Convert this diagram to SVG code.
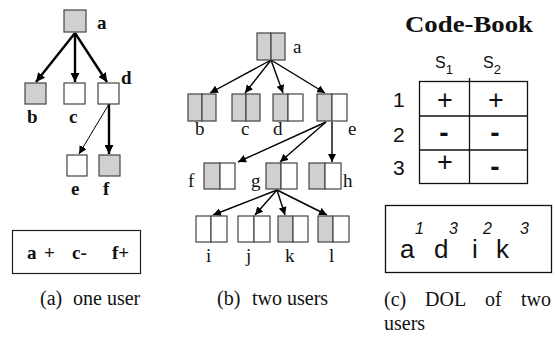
<svg xmlns="http://www.w3.org/2000/svg" width="555" height="337" viewBox="0 0 555 337">
<defs>
<marker id="ah" viewBox="0 0 10 10" refX="10" refY="5" markerWidth="9" markerHeight="9" markerUnits="userSpaceOnUse" orient="auto"><path d="M0,0 L10,5 L0,10 z" fill="#000"/></marker>
<marker id="ahs" viewBox="0 0 10 10" refX="10" refY="5" markerWidth="8" markerHeight="8" markerUnits="userSpaceOnUse" orient="auto"><path d="M0,0 L10,5 L0,10 z" fill="#000"/></marker>
</defs>
<style>
.bx{stroke:#444;stroke-width:1.2;fill:#fff}
.g{fill:#d0d0d0}
.w{fill:#fff}
.lb{font-family:'Liberation Serif','Times New Roman',serif;font-size:19px;font-weight:bold;fill:#111}
.lr{font-family:'Liberation Serif','Times New Roman',serif;font-size:19px;fill:#111}
.cap{font-family:'Liberation Serif','Times New Roman',serif;font-size:20px;fill:#111}
.sans{font-family:'Liberation Sans',Arial,sans-serif;fill:#111}
.sup{font-family:'Liberation Sans',Arial,sans-serif;font-size:16px;font-style:italic;fill:#111}
.thick{stroke:#000;stroke-width:2.4;fill:none}
.thin{stroke:#000;stroke-width:1;fill:none}
.tl{stroke:#000;stroke-width:1.4;fill:none}
.tb{stroke:#111;stroke-width:1.3;fill:none}
</style>

<!-- Panel (a) -->
<g id="connectors-a">
<line class="thick" x1="75" y1="33" x2="36" y2="82" marker-end="url(#ah)"/>
<line class="thick" x1="75" y1="33" x2="75" y2="82" marker-end="url(#ah)"/>
<line class="thick" x1="75" y1="33" x2="107" y2="82" marker-end="url(#ah)"/>
<line class="thin" x1="109" y1="104" x2="79" y2="154" marker-end="url(#ahs)"/>
<line class="thick" x1="109" y1="104" x2="109" y2="154" marker-end="url(#ah)"/>
</g>
<g id="a-a"><rect class="bx g" x="64" y="10" width="22" height="22"/><text class="lb" x="97" y="29">a</text></g>
<g id="a-b"><rect class="bx g" x="25" y="83" width="21" height="21"/><text class="lb" x="27" y="123">b</text></g>
<g id="a-c"><rect class="bx" x="64" y="83" width="21" height="21"/><text class="lb" x="69" y="123">c</text></g>
<g id="a-d"><rect class="bx" x="98" y="83" width="21" height="21"/><text class="lb" x="121" y="84">d</text></g>
<g id="a-e"><rect class="bx" x="67" y="155" width="20" height="21"/><text class="lb" x="71" y="195">e</text></g>
<g id="a-f"><rect class="bx g" x="99" y="155" width="21" height="21"/><text class="lb" x="103" y="195">f</text></g>
<g id="a-code">
<rect x="12.5" y="230.5" width="128" height="43" fill="#fff" stroke="#222" stroke-width="1.2"/>
<text class="lb" x="27" y="259">a</text>
<text class="lb" x="44" y="259">+</text>
<text class="lb" x="72" y="259">c-</text>
<text class="lb" x="112" y="259">f+</text>
</g>
<text class="cap" x="40" y="305">(a)</text>
<text class="cap" x="73" y="305">one user</text>

<!-- Panel (b) -->
<g id="connectors-b">
<line class="tl" x1="271" y1="60" x2="210" y2="93" marker-end="url(#ahs)"/>
<line class="tl" x1="271" y1="60" x2="245" y2="93" marker-end="url(#ahs)"/>
<line class="tl" x1="271" y1="60" x2="283" y2="93" marker-end="url(#ahs)"/>
<line class="tl" x1="271" y1="60" x2="325" y2="93" marker-end="url(#ahs)"/>
<line class="tl" x1="326" y1="122" x2="238" y2="162" marker-end="url(#ahs)"/>
<line class="tl" x1="326" y1="122" x2="280" y2="162" marker-end="url(#ahs)"/>
<line class="tl" x1="332" y1="122" x2="332" y2="162" marker-end="url(#ahs)"/>
<line class="tl" x1="277" y1="190" x2="213" y2="215" marker-end="url(#ahs)"/>
<line class="tl" x1="277" y1="190" x2="255" y2="215" marker-end="url(#ahs)"/>
<line class="tl" x1="277" y1="190" x2="285" y2="215" marker-end="url(#ahs)"/>
<line class="tl" x1="277" y1="190" x2="327" y2="215" marker-end="url(#ahs)"/>
</g>
<g id="b-a"><rect class="bx g" x="257" y="33" width="14" height="27"/><rect class="bx g" x="271" y="33" width="14" height="27"/><text class="lr" x="293" y="53">a</text></g>
<g id="b-b"><rect class="bx g" x="188" y="94" width="14" height="27"/><rect class="bx g" x="202" y="94" width="14" height="27"/><text class="lr" x="195" y="135">b</text></g>
<g id="b-c"><rect class="bx g" x="232" y="94" width="14" height="27"/><rect class="bx g" x="246" y="94" width="14" height="27"/><text class="lr" x="241" y="135">c</text></g>
<g id="b-d"><rect class="bx g" x="273" y="94" width="15" height="27"/><rect class="bx w" x="288" y="94" width="15" height="27"/><text class="lr" x="273" y="135">d</text></g>
<g id="b-e"><rect class="bx g" x="317" y="94" width="15" height="27"/><rect class="bx w" x="332" y="94" width="15" height="27"/><text class="lr" x="348" y="135">e</text></g>
<g id="b-f"><rect class="bx g" x="204" y="163" width="16" height="26"/><rect class="bx w" x="220" y="163" width="15" height="26"/><text class="lr" x="188" y="187">f</text></g>
<g id="b-g"><rect class="bx g" x="266" y="163" width="15" height="26"/><rect class="bx w" x="281" y="163" width="16" height="26"/><text class="lr" x="251" y="187">g</text></g>
<g id="b-h"><rect class="bx g" x="309" y="163" width="16" height="26"/><rect class="bx w" x="325" y="163" width="16" height="26"/><text class="lr" x="343" y="187">h</text></g>
<g id="b-i"><rect class="bx w" x="196" y="216" width="15" height="26"/><rect class="bx w" x="211" y="216" width="16" height="26"/><text class="lr" x="206" y="262">i</text></g>
<g id="b-j"><rect class="bx w" x="238" y="216" width="16" height="26"/><rect class="bx w" x="254" y="216" width="16" height="26"/><text class="lr" x="246" y="262">j</text></g>
<g id="b-k"><rect class="bx g" x="278" y="216" width="15" height="26"/><rect class="bx w" x="293" y="216" width="15" height="26"/><text class="lr" x="285" y="262">k</text></g>
<g id="b-l"><rect class="bx g" x="318" y="216" width="15" height="26"/><rect class="bx w" x="333" y="216" width="16" height="26"/><text class="lr" x="329" y="262">l</text></g>
<text class="cap" x="217" y="305">(b)</text>
<text class="cap" x="252" y="305">two users</text>

<!-- Panel (c) -->
<g id="codebook">
<text x="405" y="32" textLength="128" lengthAdjust="spacingAndGlyphs" style="font-family:'Liberation Serif','Times New Roman',serif;font-size:24px;font-weight:bold;fill:#111">Code-Book</text>
<text class="sans" x="435" y="68" style="font-size:16px">S<tspan style="font-size:13px" dy="6">1</tspan></text>
<text class="sans" x="483" y="68" style="font-size:16px">S<tspan style="font-size:13px" dy="6">2</tspan></text>
<rect class="tb" x="419.5" y="81.5" width="108" height="102"/>
<line class="tb" x1="469.5" y1="78" x2="469.5" y2="183"/>
<line class="tb" x1="419.5" y1="116" x2="527.5" y2="116"/>
<line class="tb" x1="419.5" y1="150" x2="527.5" y2="150"/>
<text class="sans" x="393" y="107" style="font-size:21px">1</text>
<text class="sans" x="393" y="142" style="font-size:21px">2</text>
<text class="sans" x="393" y="175" style="font-size:21px">3</text>
<text class="sans" x="445" y="109" text-anchor="middle" style="font-size:27px">+</text>
<text class="sans" x="496" y="109" text-anchor="middle" style="font-size:27px">+</text>
<text class="sans" x="444" y="142" text-anchor="middle" style="font-size:28px;font-weight:bold">-</text>
<text class="sans" x="495" y="142" text-anchor="middle" style="font-size:28px;font-weight:bold">-</text>
<text class="sans" x="445" y="171" text-anchor="middle" style="font-size:27px">+</text>
<text class="sans" x="495" y="176" text-anchor="middle" style="font-size:28px;font-weight:bold">-</text>
</g>
<g id="dol">
<rect class="tb" x="385.5" y="205.5" width="166" height="67"/>
<text class="sans" x="400" y="258" style="font-size:26px">a</text>
<text class="sans" x="434" y="258" style="font-size:26px">d</text>
<text class="sans" x="472" y="258" style="font-size:26px">i</text>
<text class="sans" x="496" y="258" style="font-size:26px">k</text>
<text class="sup" x="415" y="234">1</text>
<text class="sup" x="449" y="234">3</text>
<text class="sup" x="483" y="234">2</text>
<text class="sup" x="520" y="234">3</text>
</g>
<text class="cap" x="384" y="306">(c)</text>
<text class="cap" x="425" y="306">DOL</text>
<text class="cap" x="485" y="306">of</text>
<text class="cap" x="521" y="306">two</text>
<text class="cap" x="384" y="330">users</text>
</svg>
